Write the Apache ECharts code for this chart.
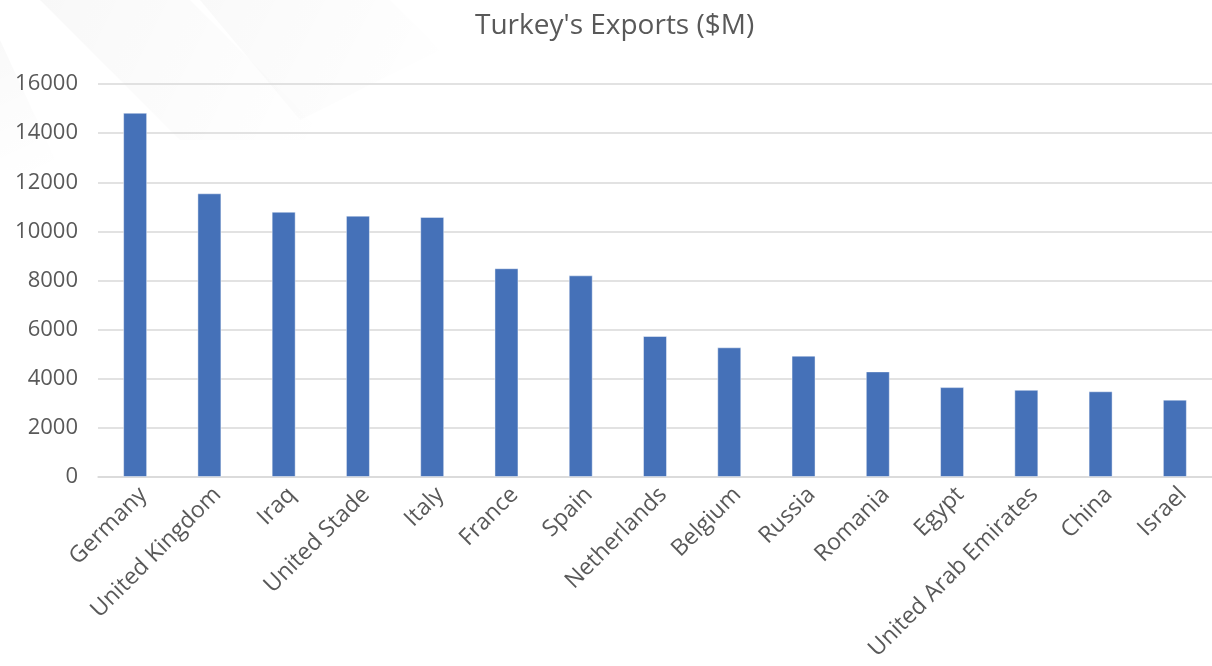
<!DOCTYPE html>
<html>
<head>
<meta charset="utf-8">
<title>Turkey's Exports</title>
<script src="https://cdn.jsdelivr.net/npm/echarts@6/dist/echarts.min.js"></script>
<style>
	html, body { margin: 0; padding: 0; background: #ffffff; }
	#chart { width: 1212px; height: 666px; }
</style>
</head>
<body>
<div id="chart"></div>
<script>
// 國家
var countries = [
	"Germany", "United Kingdom", "Iraq", "United Stade", "Italy",
	"France", "Spain", "Netherlands", "Belgium", "Russia",
	"Romania", "Egypt", "United Arab Emirates", "China", "Israel"
];
// 出口值 ($M)
var exportsValues = [
	14830, 11550, 10800, 10640, 10590,
	8500, 8210, 5740, 5280, 4940,
	4300, 3660, 3550, 3490, 3150
];
var yTicks = { min: 0, max: 16000, interval: 2000 };

function Bar(dom) {
	var myChart = echarts.init(dom, null, { renderer: "canvas" });
	var textColor = "#595959";
	var option = {
		backgroundColor: "#ffffff",
		// 背景斜紋
		graphic: [
			{
				type: "polygon",
				z: -10,
				shape: { points: [[40, 0], [190, 0], [330, 140], [180, 140]] },
				style: {
					fill: new echarts.graphic.LinearGradient(0, 0, 1, 1, [
						{ offset: 0, color: "rgba(0,0,0,0.028)" },
						{ offset: 1, color: "rgba(0,0,0,0)" }
					])
				}
			},
			{
				type: "polygon",
				z: -10,
				shape: { points: [[200, 0], [390, 0], [440, 50], [300, 120]] },
				style: {
					fill: new echarts.graphic.LinearGradient(0, 0, 1, 1, [
						{ offset: 0, color: "rgba(0,0,0,0.022)" },
						{ offset: 1, color: "rgba(0,0,0,0)" }
					])
				}
			},
			{
				type: "polygon",
				z: -10,
				shape: { points: [[0, 40], [0, 170], [60, 170]] },
				style: {
					fill: new echarts.graphic.LinearGradient(0, 0, 1, 1, [
						{ offset: 0, color: "rgba(0,0,0,0.022)" },
						{ offset: 1, color: "rgba(0,0,0,0)" }
					])
				}
			}
		],
		title: {
			text: "Turkey's Exports ($M)",
			left: 470,
			top: 7,
			textStyle: {
				color: textColor,
				fontFamily: "Open Sans",
				fontSize: 28,
				fontWeight: "normal"
			}
		},
		grid: {
			left: 98,
			top: 84,
			width: 1117,
			bottom: 189,
			containLabel: false
		},
		xAxis: {
			type: "category",
			data: countries,
			axisTick: { show: false },
			axisLine: { lineStyle: { color: "#d9d9d9", width: 1.5 } },
			axisLabel: {
				rotate: 45,
				interval: 0,
				margin: 6,
				verticalAlign: "top",
				color: textColor,
				fontFamily: "Open Sans",
				fontSize: 23
			}
		},
		yAxis: {
			type: "value",
			min: yTicks.min,
			max: yTicks.max,
			interval: yTicks.interval,
			axisLine: { show: false },
			axisTick: { show: false },
			splitLine: { lineStyle: { color: "#d9d9d9", width: 1.5 } },
			axisLabel: {
				margin: 20,
				color: textColor,
				fontFamily: "Open Sans",
				fontSize: 22,
				formatter: function (v) { return String(v); }
			}
		},
		series: [
			{
				type: "bar",
				data: exportsValues,
				barWidth: 24,
				itemStyle: {
					color: "#4571b8",
					borderColor: "rgba(255,255,255,0.45)",
					borderWidth: 1
				}
			}
		]
	};
	myChart.setOption(option);
	window.addEventListener("resize", myChart.resize);
}

Bar(document.getElementById("chart"));
</script>
</body>
</html>
